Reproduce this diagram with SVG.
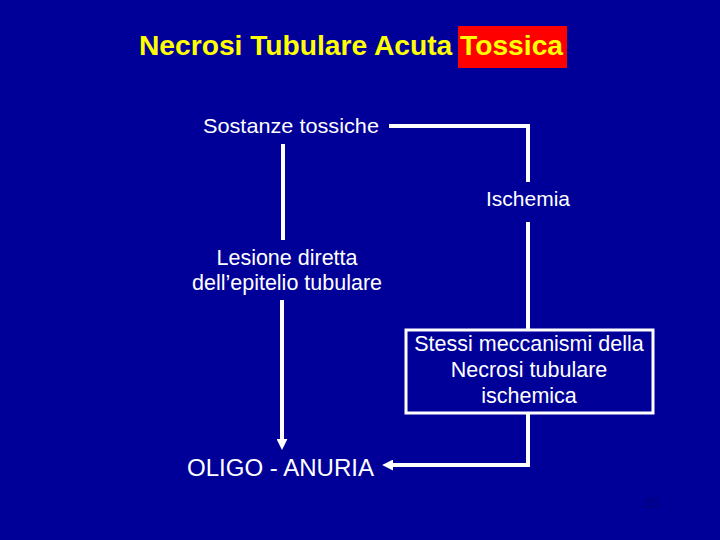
<svg xmlns="http://www.w3.org/2000/svg" width="720" height="540" viewBox="0 0 720 540">
<defs>
<style>
.t{font-family:"Liberation Sans",Arial,sans-serif;fill:#fff}
.ln{stroke:#fff;stroke-width:4;fill:none}
</style>
<marker id="ah" viewBox="0 0 10 10" refX="1" refY="5" markerWidth="11" markerHeight="11" orient="auto" markerUnits="userSpaceOnUse">
<path d="M0,0 L10,5 L0,10 z" fill="#fff"/>
</marker>
</defs>
<rect width="720" height="540" fill="#000099"/>
<g id="title">
<rect x="458" y="26" width="109" height="42" fill="#ff0000"/>
<text x="139" y="55" font-family="Liberation Sans,Arial,sans-serif" font-weight="bold" font-size="27.5" fill="#ffff00" textLength="424" lengthAdjust="spacingAndGlyphs">Necrosi Tubulare Acuta Tossica</text>
</g>
<g id="connectors">
<path class="ln" d="M389,126 H528 V182"/>
<path class="ln" d="M528,222 V330"/>
<path class="ln" d="M283,144 V240"/>
<path class="ln" d="M282,300 V440" marker-end="url(#ah)"/>
<path class="ln" d="M528,414 V465 H392" marker-end="url(#ah)"/>
</g>
<g id="sostanze">
<text class="t" x="203" y="133" font-size="21" textLength="176" lengthAdjust="spacingAndGlyphs">Sostanze tossiche</text>
</g>
<g id="ischemia">
<text class="t" x="528" y="206" font-size="21" text-anchor="middle">Ischemia</text>
</g>
<g id="lesione">
<text class="t" x="287" y="265" font-size="21.5" text-anchor="middle">Lesione diretta</text>
<text class="t" x="287" y="290" font-size="21.5" text-anchor="middle">dell’epitelio tubulare</text>
</g>
<g id="stessi">
<rect x="406" y="330" width="247" height="83" fill="none" stroke="#fff" stroke-width="3"/>
<text class="t" x="529" y="351" font-size="21.5" text-anchor="middle">Stessi meccanismi della</text>
<text class="t" x="529" y="377" font-size="21.5" text-anchor="middle">Necrosi tubulare</text>
<text class="t" x="529" y="403" font-size="21.5" text-anchor="middle">ischemica</text>
</g>
<g id="oligo">
<text class="t" x="187" y="476" font-size="23" textLength="187" lengthAdjust="spacingAndGlyphs">OLIGO - ANURIA</text>
</g>
<g id="page">
<text x="644" y="508" font-family="Liberation Sans,Arial,sans-serif" font-size="14" fill="#00007a">35</text>
</g>
</svg>
